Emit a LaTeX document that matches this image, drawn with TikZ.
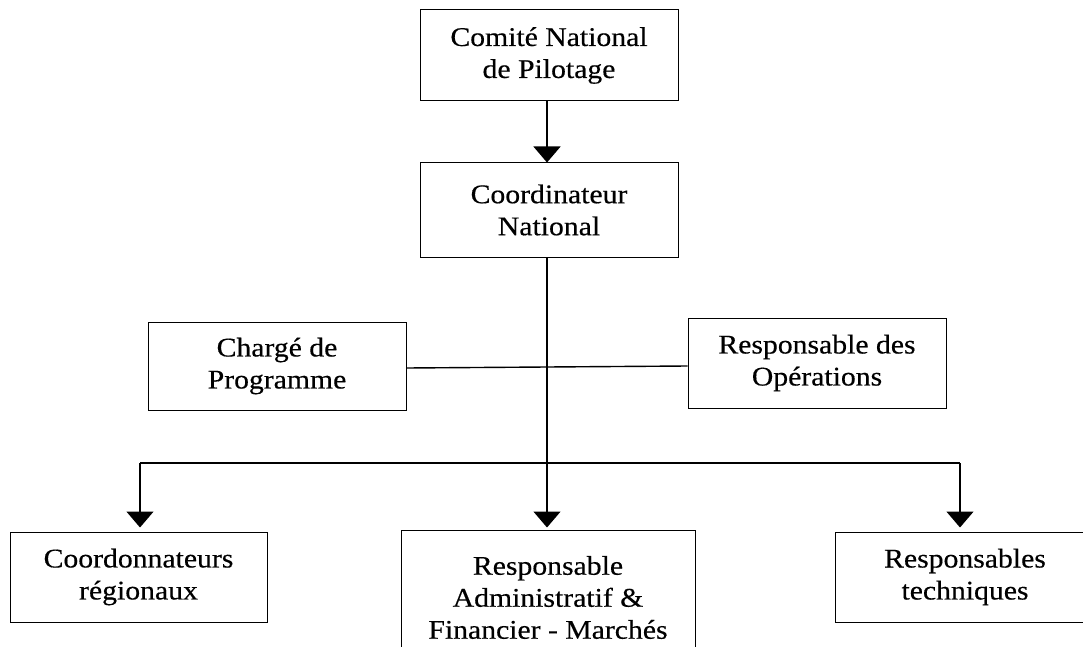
\documentclass[tikz,border=0pt]{standalone}
\usepackage{fontspec}
\setmainfont{Liberation Serif}[FakeStretch=1.1,FakeBold=0.4]
\usetikzlibrary{arrows.meta}
\begin{document}
\begin{tikzpicture}[x=1pt,y=-1pt,
  box/.style={draw, line width=1pt, inner sep=0pt, align=center,
    font=\fontsize{27pt}{32pt}\selectfont},
  conn/.style={line width=1.4pt},
  arr/.style={conn, -{Triangle[width=27pt,length=16pt]}}]
\useasboundingbox (0,0) rectangle (1083,647);
\clip (0,0) rectangle (1083,647);
\node[box, minimum width=258pt, minimum height=91pt] (cnp) at (549,55.5) {Comité National\\de Pilotage};
\node[box, minimum width=258pt, minimum height=94pt] (cn) at (549,210) {Coordinateur\\National};
\node[box, minimum width=258pt, minimum height=88pt] (cp) at (277,366) {Chargé de\\Programme};
\node[box, minimum width=258pt, minimum height=90pt] (ro) at (817,363) {Responsable des\\Opérations};
\node[box, minimum width=257pt, minimum height=90pt] (cr) at (138.5,577) {Coordonnateurs\\régionaux};
\node[box, minimum width=294pt, minimum height=135pt] (raf) at (548,597.5) {Responsable\\Administratif \&\\Financier - Marchés};
\node[box, minimum width=260pt, minimum height=90pt] (rt) at (965,577) {Responsables\\techniques};
\coordinate (bl) at (140,463);
\coordinate (br) at (960,463);
\coordinate (bm) at (547,463);
\draw[arr] (cnp.south -| bm) -- (cn.north -| bm);
\draw[conn] (cp.east |- 0,368) -- (ro.west |- 0,366);
\draw[conn] (bl) -- (br);
\draw[arr] (cn.south -| bm) -- ([yshift=2pt]raf.north -| bm);
\draw[arr] (bl) -- ([yshift=4pt]cr.north -| bl);
\draw[arr] (br) -- ([yshift=4pt]rt.north -| br);
\end{tikzpicture}
\end{document}
